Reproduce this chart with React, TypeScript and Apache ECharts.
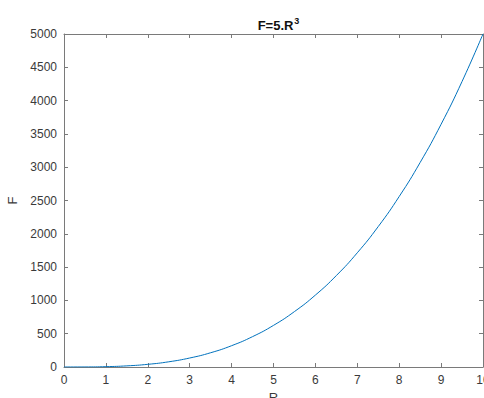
import React, { useEffect, useRef } from "react";
import * as echarts from "echarts";

const rValues = [0, 0.5, 1, 1.5, 2, 2.5, 3, 3.5, 4, 4.5, 5, 5.5, 6, 6.5, 7, 7.5, 8, 8.5, 9, 9.5, 10];
const fValues = [0, 0.6, 5, 17, 40, 78, 135, 214, 320, 456, 625, 832, 1080, 1373, 1715, 2109, 2560, 3071, 3645, 4287, 5000];

const axisColor = "#7a7a7a";
const labelColor = "#3a3a3a";
const font = "Liberation Sans, Arial, Helvetica, sans-serif";

export default function App() {
  const ref = useRef<HTMLDivElement>(null);
  useEffect(() => {
    if (!ref.current) return;
    const chart = echarts.init(ref.current, null, { renderer: "svg" });
    const data = rValues.map((r, i) => [r, fValues[i]]);
    const line = { show: true, onZero: false, lineStyle: { color: axisColor, width: 1 } };
    const tick = { show: true, inside: true, length: 4, lineStyle: { color: axisColor } };
    chart.setOption({
      animation: false,
      backgroundColor: "#ffffff",
      title: {
        text: "{a|F=5.R}{s|3}",
        left: 273.5,
        textAlign: "center",
        top: 11,
        textStyle: {
          rich: {
            a: { fontFamily: font, fontWeight: "bold", fontSize: 13, color: "#111", verticalAlign: "bottom", lineHeight: 16 },
            s: { fontFamily: font, fontWeight: "bold", fontSize: 9, color: "#111", verticalAlign: "top", lineHeight: 16, padding: [0, 0, 8, 1] },
          },
        },
      },
      grid: { left: 64, right: 1, top: 34, bottom: 31, containLabel: false, outerBoundsMode: "none" },
      xAxis: [
        {
          type: "value",
          min: 0,
          max: 10,
          interval: 1,
          name: "R",
          nameLocation: "middle",
          nameGap: 24,
          nameTextStyle: { fontFamily: font, fontSize: 13, color: labelColor },
          axisLine: line,
          axisTick: tick,
          axisLabel: { fontFamily: font, fontSize: 12, color: labelColor, margin: 7, formatter: (v: number) => String(v) },
          splitLine: { show: false },
        },
        {
          type: "value",
          position: "top",
          min: 0,
          max: 10,
          interval: 1,
          axisLine: line,
          axisTick: tick,
          axisLabel: { show: false },
          splitLine: { show: false },
        },
      ],
      yAxis: [
        {
          type: "value",
          min: 0,
          max: 5000,
          interval: 500,
          name: "F",
          nameLocation: "middle",
          nameGap: 43,
          nameTextStyle: { fontFamily: font, fontSize: 13, color: labelColor },
          axisLine: line,
          axisTick: tick,
          axisLabel: { fontFamily: font, fontSize: 12, color: labelColor, margin: 7, formatter: (v: number) => String(v) },
          splitLine: { show: false },
        },
        {
          type: "value",
          position: "right",
          min: 0,
          max: 5000,
          interval: 500,
          axisLine: line,
          axisTick: tick,
          axisLabel: { show: false },
          splitLine: { show: false },
        },
      ],
      series: [
        {
          type: "line",
          data,
          smooth: true,
          showSymbol: false,
          symbol: "none",
          lineStyle: { color: "#0072BD", width: 1 },
          xAxisIndex: 0,
          yAxisIndex: 0,
        },
      ],
    });
    return () => chart.dispose();
  }, []);
  return (
    <div
      ref={ref}
      style={{ position: "absolute", left: 0, top: 0, width: 484, height: 398 }}
    />
  );
}
